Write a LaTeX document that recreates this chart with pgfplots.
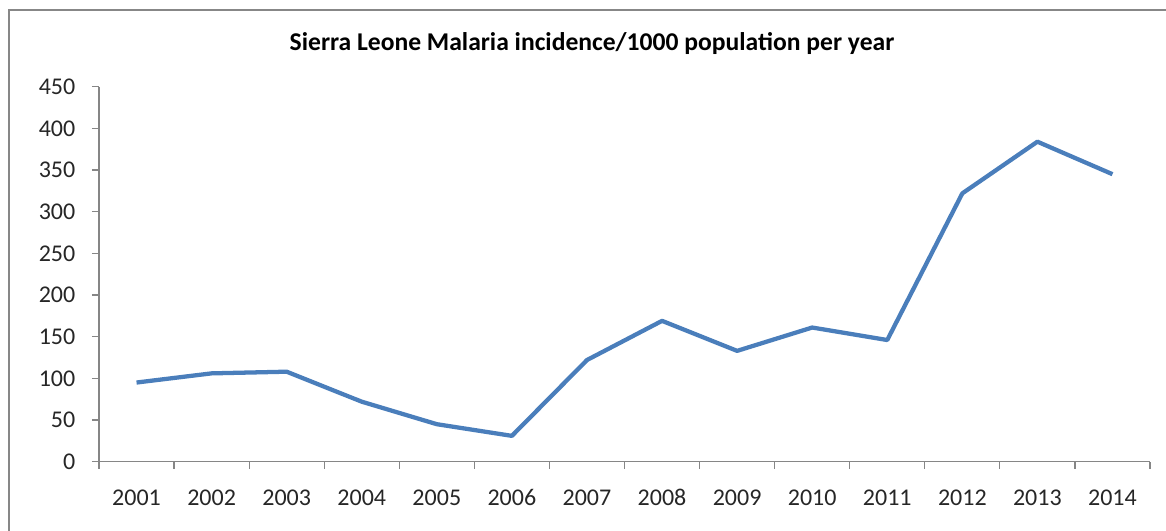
\documentclass[border=0pt]{standalone}
\usepackage{pgfplots}
\pgfplotsset{compat=1.18}
\usepackage{fontspec}
\setmainfont{Carlito}
\definecolor{lineblue}{HTML}{4A7EBB}
\definecolor{axisgray}{HTML}{868686}
\definecolor{framegray}{HTML}{878787}
\begin{document}
\begin{tikzpicture}[x=0.75pt,y=0.75pt]
\useasboundingbox (0,0) rectangle (1166,531);
% chart frame (left and top edges)
\draw[framegray, line width=1.5pt] (9,-10) -- (9,521) -- (1180,521);
\node[anchor=base, font=\bfseries\fontsize{19.2}{21}\selectfont] at (592,480)
  {Sierra Leone Malaria incidence/1000 population per year};
\begin{axis}[
  at={(99pt*0.75,69.3pt*0.75)}, anchor=south west,
  scale only axis, width=788.25pt, height=281.25pt,
  xmin=-0.5, xmax=13.5, ymin=0, ymax=450,
  axis x line*=bottom, axis y line*=left,
  axis line style={axisgray, line width=0.9pt, -},
  tick style={axisgray, line width=0.9pt},
  major tick length=5.25pt, tick align=outside,
  ytick={0,50,...,450},
  xtick={-0.5,0.5,...,13.5},
  xticklabels={2001,2002,2003,2004,2005,2006,2007,2008,2009,2010,2011,2012,2013,2014},
  x tick label as interval,
  ticklabel style={font=\fontsize{18}{20}\selectfont, text=black!85},
  yticklabel style={xshift=-9pt},
  xticklabel style={text height=12pt, text depth=0pt, yshift=-12pt},
  /pgf/number format/assume math mode=true,
  clip=false,
]
\addplot[lineblue, line width=3.2pt, line join=round] coordinates {
  (0,95) (1,106) (2,108) (3,72) (4,45) (5,31) (6,122)
  (7,169) (8,133) (9,161) (10,146) (11,322) (12,384) (13,345)
};
\end{axis}
\end{tikzpicture}
\end{document}
